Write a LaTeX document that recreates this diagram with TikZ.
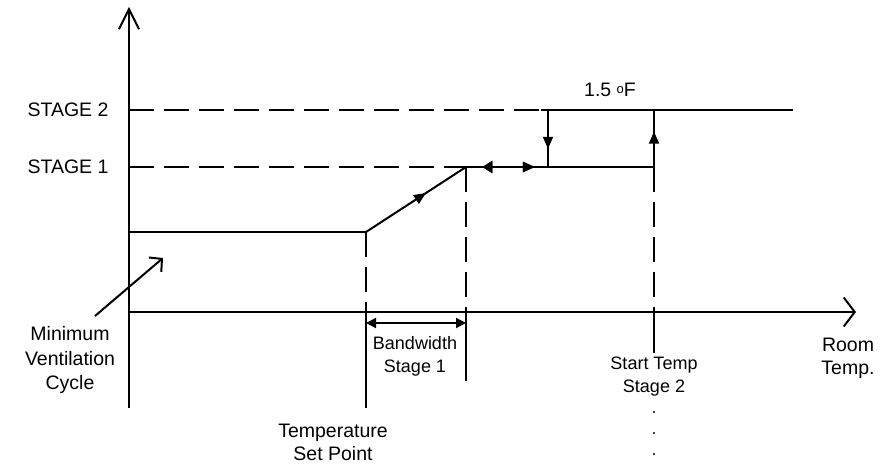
\documentclass[tikz,border=0pt]{standalone}
\usepackage{fontspec}
\setmainfont{Liberation Sans}
\usetikzlibrary{arrows.meta,decorations.markings}
\tikzset{
  line/.style={line width=2pt},
  dashline/.style={line width=2pt, dash pattern=on 25pt off 10pt},
  lbl/.style={inner sep=0pt, align=center, font=\fontsize{19.5}{23}\selectfont},
  smalllbl/.style={inner sep=0pt, align=center, font=\fontsize{18}{23}\selectfont},
  midarrow/.style={postaction={decorate}, decoration={markings, mark=at position #1 with {\arrow{Triangle[length=12pt,width=10pt]}}}},
  midarrowrev/.style={postaction={decorate}, decoration={markings, mark=at position #1 with {\arrowreversed{Triangle[length=10pt,width=12pt]}}}},
}
\begin{document}
\begin{tikzpicture}[x=1pt,y=-1pt]
\useasboundingbox (0,0) rectangle (892,465);
% coordinates
\coordinate (O) at (129,312);
\coordinate (ytop) at (129,7);
\coordinate (ybot) at (129,408);
\coordinate (xend) at (856,312);
\coordinate (s2a) at (129,110);
\coordinate (s2b) at (541,110);
\coordinate (s2c) at (548,110);
\coordinate (s2d) at (654,110);
\coordinate (s2e) at (793,110);
\coordinate (s1a) at (129,167);
\coordinate (s1b) at (466,167);
\coordinate (s1c) at (548,167);
\coordinate (s1d) at (654,167);
\coordinate (mva) at (129,232);
\coordinate (mvb) at (366,232);
\coordinate (spx) at (366,312);
\coordinate (spb) at (366,408);
\coordinate (bwx) at (466,312);
\coordinate (bwb) at (466,381);
\coordinate (stx) at (654,312);
\coordinate (stb) at (654,353);
\coordinate (bwl) at (366,323);
\coordinate (bwr) at (466,323);
\coordinate (mvs) at (95,316);
\coordinate (mvt) at (163,258);

% axes
\draw[line, -{Straight Barb[length=20pt,width=20pt]}] (ybot) -- (ytop);
\draw[line, -{Straight Barb[length=11pt,width=29pt]}] (O) -- (xend);

% stage lines
\draw[dashline] (s2a) -- (s2b);
\draw[line] (s2b) -- (s2e);
\draw[dashline] (s1a) -- (s1b);
\draw[line, midarrowrev=0.2, midarrow=0.84] (s1b) -- (s1c);
\draw[line] (s1c) -- (s1d);

% minimum ventilation and slope
\draw[line] (mva) -- (mvb);
\draw[line, midarrow=0.6] (mvb) -- (s1b);

% verticals
\draw[dashline] (mvb) -- (spx);
\draw[line] (spx) -- (spb);
\draw[dashline] (s1b) -- (bwx);
\draw[line] (bwx) -- (bwb);
\draw[dashline] (s1d) -- (stx);
\draw[line] (stx) -- (stb);
\draw[line, midarrow=0.68] (s2c) -- (s1c);
\draw[line, midarrow=0.62] (s1d) -- (s2d);

% bandwidth arrow
\draw[line, {Triangle[length=10pt,width=10pt]}-{Triangle[length=10pt,width=10pt]}] (bwl) -- (bwr);

% min vent pointer
\draw[line, -{Straight Barb[length=9pt,width=19pt]}] (mvs) -- (mvt);

% labels
\node[lbl] (st2) at (68,110) {STAGE 2};
\node[lbl] (st1) at (68,167) {STAGE 1};
\node[lbl] (deg) at (610,90) {1.5 \raisebox{0.35ex}{\fontsize{13}{13}\selectfont o}F};
\node[lbl, font=\fontsize{19.5}{24.5}\selectfont] (mvl) at (70,360) {Minimum\\Ventilation\\Cycle};
\node[lbl] (tsp) at (333,442) {Temperature\\Set Point};
\node[smalllbl] (bwlbl) at (415,356) {Bandwidth\\Stage 1};
\node[smalllbl] (stl) at (654,377) {Start Temp\\Stage 2};
\node[lbl] (room) at (848,358) {Room\\Temp.};
\fill (654,412) circle (1.2pt);
\fill (654,433) circle (1.2pt);
\fill (654,454) circle (1.2pt);
\end{tikzpicture}
\end{document}
